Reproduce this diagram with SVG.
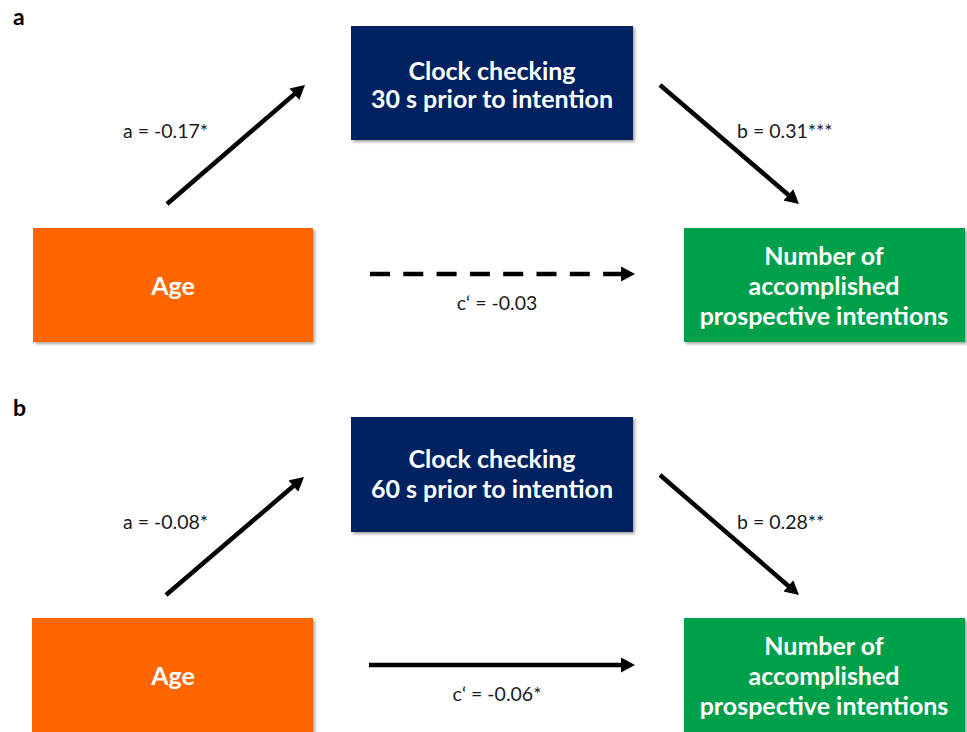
<svg xmlns="http://www.w3.org/2000/svg" width="967" height="732" viewBox="0 0 967 732">
  <style>
    .box-text { font-family: Lato, "Open Sans", "Liberation Sans", sans-serif; font-weight: bold; font-size: 25px; fill: #ffffff; text-anchor: middle; }
    .lbl { font-family: Lato, "Liberation Sans", sans-serif; font-size: 19.5px; fill: #1a1a1a; }
    .panel { font-family: Lato, "Liberation Sans", sans-serif; font-weight: bold; font-size: 23px; fill: #000000; }
    .navy { fill: #002060; }
    .orange { fill: #FF6600; }
    .green { fill: #00A04B; }
    .arrow { stroke: #000000; stroke-width: 4.5; fill: none; marker-end: url(#ah); }
    .dashed { stroke-dasharray: 20 13.3; }
  </style>
  <defs>
    <filter id="shadow" x="-5%" y="-5%" width="115%" height="120%">
      <feDropShadow dx="2" dy="2" stdDeviation="1.5" flood-color="#000000" flood-opacity="0.35"/>
    </filter>
    <marker id="ah" markerUnits="userSpaceOnUse" markerWidth="16" markerHeight="16" refX="2" refY="7.5" orient="auto">
      <path d="M0,0 L14,7.5 L0,15 z" fill="#000000"/>
    </marker>
  </defs>
  <rect width="967" height="732" fill="#ffffff"/>

  <!-- Panel a -->
  <text class="panel" x="13" y="25">a</text>
  <g id="a-clock">
    <rect class="navy" x="351" y="26" width="282" height="114" filter="url(#shadow)"/>
    <text class="box-text" x="492" y="80">Clock checking</text>
    <text class="box-text" x="492" y="108">30 s prior to intention</text>
  </g>
  <g id="a-age">
    <rect class="orange" x="33" y="228" width="280" height="114" filter="url(#shadow)"/>
    <text class="box-text" x="173" y="295">Age</text>
  </g>
  <g id="a-outcome">
    <rect class="green" x="684" y="228" width="281" height="114" filter="url(#shadow)"/>
    <text class="box-text" x="824" y="265">Number of</text>
    <text class="box-text" x="824" y="295">accomplished</text>
    <text class="box-text" x="824" y="325">prospective intentions</text>
  </g>
  <g id="a-connectors">
    <line class="arrow" x1="167" y1="204" x2="295.9" y2="92.9"/>
    <line class="arrow" x1="660" y1="85" x2="789.9" y2="196.2"/>
    <line class="arrow dashed" x1="370" y1="274" x2="623" y2="274"/>
    <text class="lbl" x="123" y="138">a = -0.17*</text>
    <text class="lbl" x="737" y="138">b = 0.31***</text>
    <text class="lbl" x="497" y="310" text-anchor="middle">c‘ = -0.03</text>
  </g>

  <!-- Panel b -->
  <text class="panel" x="13" y="416">b</text>
  <g id="b-clock">
    <rect class="navy" x="351" y="417" width="282" height="115" filter="url(#shadow)"/>
    <text class="box-text" x="492" y="468">Clock checking</text>
    <text class="box-text" x="492" y="498">60 s prior to intention</text>
  </g>
  <g id="b-age">
    <rect class="orange" x="32" y="618" width="281" height="120" filter="url(#shadow)"/>
    <text class="box-text" x="173" y="685">Age</text>
  </g>
  <g id="b-outcome">
    <rect class="green" x="684" y="618" width="281" height="120" filter="url(#shadow)"/>
    <text class="box-text" x="824" y="655">Number of</text>
    <text class="box-text" x="824" y="685">accomplished</text>
    <text class="box-text" x="824" y="715">prospective intentions</text>
  </g>
  <g id="b-connectors">
    <line class="arrow" x1="166" y1="595" x2="294.9" y2="484.8"/>
    <line class="arrow" x1="660" y1="475" x2="789.9" y2="587.2"/>
    <line class="arrow" x1="369" y1="665" x2="623" y2="665"/>
    <text class="lbl" x="123" y="529">a = -0.08*</text>
    <text class="lbl" x="737" y="529">b = 0.28**</text>
    <text class="lbl" x="497" y="701" text-anchor="middle">c‘ = -0.06*</text>
  </g>
</svg>
